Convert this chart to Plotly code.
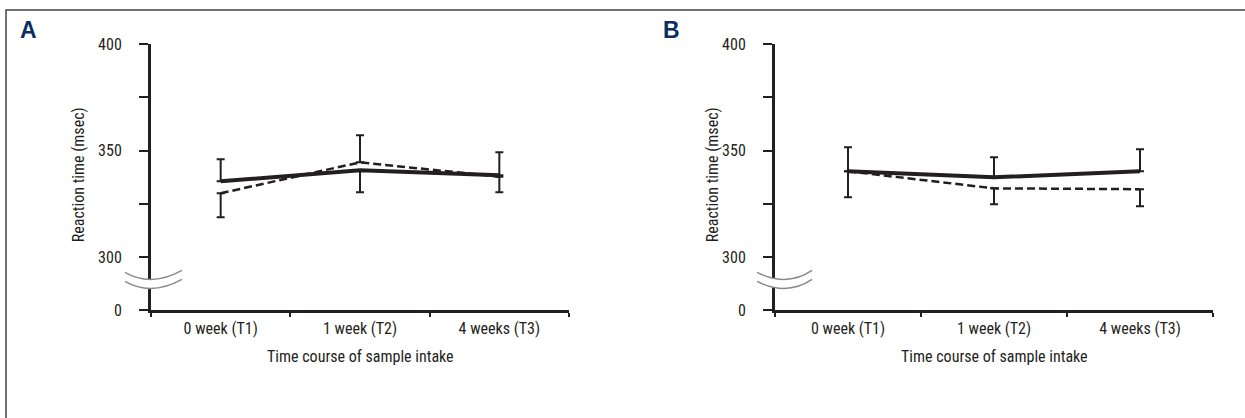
import plotly.graph_objects as go

# ---------------- data ----------------
categories = ["0 week (T1)", "1 week (T2)", "4 weeks (T3)"]

# Panel A
a_solid = [335.6, 340.8, 338.4]
a_solid_up = [10.4, 0.0, 10.8]
a_solid_down = [0.0, 10.3, 0.0]
a_dash = [330.0, 344.5, 337.8]
a_dash_up = [0.0, 12.7, 0.0]
a_dash_down = [11.3, 0.0, 7.3]

# Panel B
b_solid = [340.3, 337.5, 340.3]
b_solid_up = [11.3, 9.4, 10.4]
b_solid_down = [0.0, 0.0, 0.0]
b_dash = [340.3, 332.3, 331.9]
b_dash_up = [0.0, 0.0, 0.0]
b_dash_down = [12.2, 7.5, 8.0]

y_tickvals = [275, 300, 325, 350, 375, 400]
y_ticktext = ["0", "300", "", "350", "", "400"]

panel_labels = ["A", "B"]
y_title = "Reaction time (msec)"
x_title = "Time course of sample intake"

# ---------------- styling ----------------
W, H = 1245, 418
INK = "#231f20"
FONT = "Liberation Sans Narrow, Roboto Condensed, Arial Narrow, Liberation Sans, sans-serif"

# vertical calibration of the captured picture
V_OFF, V_SCALE = 9.0, 0.953


def px_x(p):
    return p / W


def px_y(p):
    q = (p - V_OFF) / V_SCALE
    return (H - q) / H


fig = go.Figure()


def add_panel(xa, ya, solid, s_up, s_dn, dash, d_up, d_dn):
    fig.add_trace(go.Scatter(
        x=categories, y=dash, xaxis=xa, yaxis=ya, mode="lines",
        line=dict(color=INK, width=2.5, dash="8px,4px"),
        error_y=dict(type="data", symmetric=False, array=d_up, arrayminus=d_dn,
                     color=INK, thickness=2, width=4),
        showlegend=False, hoverinfo="skip"))
    fig.add_trace(go.Scatter(
        x=categories, y=solid, xaxis=xa, yaxis=ya, mode="lines",
        line=dict(color=INK, width=4),
        error_y=dict(type="data", symmetric=False, array=s_up, arrayminus=s_dn,
                     color=INK, thickness=2, width=4),
        showlegend=False, hoverinfo="skip"))


add_panel("x", "y", a_solid, a_solid_up, a_solid_down, a_dash, a_dash_up, a_dash_down)
add_panel("x2", "y2", b_solid, b_solid_up, b_solid_down, b_dash, b_dash_up, b_dash_down)

xdom_a = [px_x(151), px_x(569)]
xdom_b = [px_x(775), px_x(1213)]
ydom = [px_y(310), px_y(44)]

xaxis_common = dict(
    type="category", categoryorder="array", categoryarray=categories,
    range=[-0.5, 2.5], showline=True, linecolor=INK, linewidth=3,
    ticks="outside", tickson="boundaries", ticklen=4, tickwidth=2, tickcolor=INK,
    showgrid=False, zeroline=False, ticklabelstandoff=1,
    tickfont=dict(family=FONT, size=16, color=INK),
)
yaxis_common = dict(
    range=[275, 400], tickmode="array", tickvals=y_tickvals, ticktext=y_ticktext,
    showline=True, linecolor=INK, linewidth=3, ticks="outside", ticklen=9,
    tickwidth=2, tickcolor=INK, showgrid=False, zeroline=False,
    ticklabelstandoff=14, tickfont=dict(family=FONT, size=16, color=INK),
)

fig.update_layout(
    width=W, height=H, margin=dict(l=0, r=0, t=0, b=0),
    paper_bgcolor="white", plot_bgcolor="white",
    xaxis=dict(xaxis_common, domain=xdom_a, anchor="y"),
    yaxis=dict(yaxis_common, domain=ydom, anchor="x"),
    xaxis2=dict(xaxis_common, domain=xdom_b, anchor="y2"),
    yaxis2=dict(yaxis_common, domain=ydom, anchor="x2"),
)

annotations = []
shapes = []

# outer frame (top and left edges visible)
shapes.append(dict(type="rect", xref="paper", yref="paper",
                   x0=px_x(6), y0=-0.05, x1=1.05, y1=(H - 1.0) / H,
                   line=dict(color="#444444", width=1.5), layer="below"))

panels = [
    dict(label_x=28, label_y=30, ytitle_x=78, brk=(125, 151, 182), xmid=(151 + 569) / 2),
    dict(label_x=671, label_y=30, ytitle_x=712, brk=(757, 787, 812), xmid=(775 + 1213) / 2),
]

for lab, p in zip(panel_labels, panels):
    annotations.append(dict(text=f"<b>{lab}</b>", x=px_x(p["label_x"]), y=px_y(p["label_y"]),
                            xref="paper", yref="paper", showarrow=False,
                            xanchor="center", yanchor="middle",
                            font=dict(family="Liberation Sans, Arial, sans-serif", size=23, color="#0b2f62")))
    annotations.append(dict(text=y_title, x=px_x(p["ytitle_x"]), y=px_y(175),
                            xref="paper", yref="paper", showarrow=False, textangle=-90,
                            xanchor="center", yanchor="middle",
                            font=dict(family=FONT, size=16, color=INK)))
    annotations.append(dict(text=x_title, x=px_x(p["xmid"]), y=px_y(356),
                            xref="paper", yref="paper", showarrow=False,
                            xanchor="center", yanchor="middle",
                            font=dict(family=FONT, size=16, color=INK)))
    x0, xm, x1 = p["brk"]
    up = (272, 279, 270)
    lo = (281, 288, 279)

    def pt(x, y):
        return f"{px_x(x):.5f},{px_y(y):.5f}"
    cu = 2 * up[1] - (up[0] + up[2]) / 2
    cl = 2 * lo[1] - (lo[0] + lo[2]) / 2
    gap = (f"M {pt(x0, up[0])} Q {pt(xm, cu)} {pt(x1, up[2])} "
           f"L {pt(x1, lo[2])} Q {pt(xm, cl)} {pt(x0, lo[0])} Z")
    shapes.append(dict(type="path", xref="paper", yref="paper", path=gap,
                       fillcolor="white", line=dict(width=0), layer="above"))
    for c, yy in ((cu, up), (cl, lo)):
        shapes.append(dict(type="path", xref="paper", yref="paper",
                           path=f"M {pt(x0, yy[0])} Q {pt(xm, c)} {pt(x1, yy[2])}",
                           line=dict(color="#8a8a8a", width=1.5), layer="above"))

fig.update_layout(annotations=annotations, shapes=shapes)

fig.write_html("out.html")
